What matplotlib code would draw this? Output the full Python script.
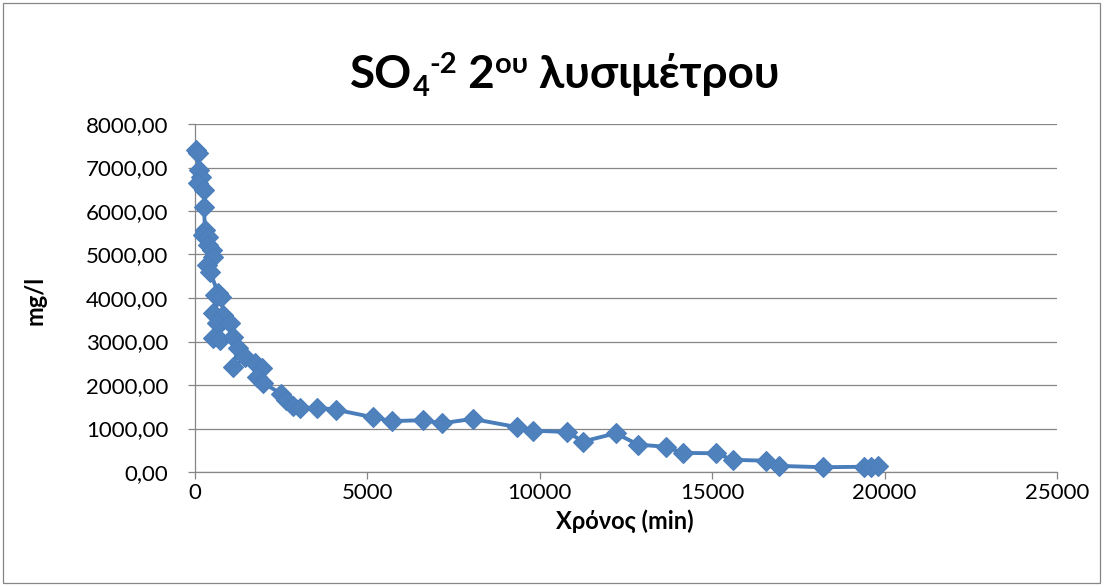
import matplotlib
matplotlib.use("Agg")
import matplotlib.pyplot as plt
from matplotlib.patches import Rectangle
from matplotlib.ticker import FuncFormatter

# Sulfate concentration leached from lysimeter 2 over time
time_min = [30, 80, 110, 170, 90, 260, 260, 290, 230, 380, 380, 500, 520, 350, 440,
            670, 580, 750, 520, 810, 640, 1015, 520, 725, 1100, 1250, 1100, 1450,
            1740, 1940, 1800, 1970, 2500, 2650, 2850, 3050, 3550, 4100, 5150, 5700,
            6600, 7150, 8050, 9350, 9800, 10800, 11250, 12200, 12850, 13650, 14150,
            15100, 15600, 16550, 16950, 18200, 19400, 19600, 19800]
so4_mg_l = [7400, 7330, 6940, 6780, 6640, 6480, 6090, 5560, 5450, 5400, 5220, 5100,
            4940, 4760, 4600, 4110, 4070, 4020, 3650, 3610, 3430, 3430, 3080, 3030,
            3100, 2850, 2410, 2640, 2500, 2390, 2180, 2050, 1800, 1650, 1520, 1470,
            1480, 1430, 1260, 1170, 1190, 1120, 1220, 1030, 950, 920, 700, 890, 630,
            580, 440, 430, 280, 260, 140, 110, 120, 110, 130]

x_ticks = [0, 5000, 10000, 15000, 20000, 25000]
y_ticks = [0, 1000, 2000, 3000, 4000, 5000, 6000, 7000, 8000]

FONT = ["Lato", "Open Sans", "DejaVu Sans"]
plt.rcParams["font.family"] = FONT

GRID = "#868686"
LINE = "#4A7EBB"
FILL = "#4F81BD"

fig = plt.figure(figsize=(11.04, 5.87), dpi=100)
fig.patch.set_facecolor("white")
fig.patches.append(Rectangle((3 / 1104, 4 / 587), 1097 / 1104, 580 / 587,
                             transform=fig.transFigure, fill=False,
                             edgecolor=GRID, linewidth=0.9))

ax = fig.add_axes([195 / 1104, 1 - 472 / 587, 862 / 1104, 348 / 587])
ax.plot(time_min, so4_mg_l, color=LINE, linewidth=2.8, marker="D",
        markersize=10, markerfacecolor=FILL, markeredgecolor=LINE,
        markeredgewidth=0.8, zorder=3, clip_on=False)

ax.set_xlim(x_ticks[0], x_ticks[-1])
ax.set_ylim(y_ticks[0], y_ticks[-1])
ax.set_xticks(x_ticks)
ax.set_yticks(y_ticks)
ax.yaxis.set_major_formatter(FuncFormatter(lambda v, p: f"{v:.2f}".replace(".", ",")))
ax.xaxis.set_major_formatter(FuncFormatter(lambda v, p: f"{int(v)}"))

ax.grid(axis="y", color=GRID, linewidth=0.9)
ax.set_axisbelow(True)
for side in ("top", "right"):
    ax.spines[side].set_visible(False)
for side in ("left", "bottom"):
    ax.spines[side].set_color(GRID)
    ax.spines[side].set_linewidth(0.9)
ax.tick_params(axis="both", direction="out", length=5, width=0.9, color=GRID,
               labelsize=16, labelcolor="black")
ax.tick_params(axis="x", pad=3)
ax.tick_params(axis="y", pad=14)

fig.text(625 / 1104, 1 - 521 / 587, "Χρόνος (min)", fontsize=17, fontweight="bold",
         ha="center", va="center")
fig.text(35 / 1104, 1 - 300 / 587, "mg/l", fontsize=17, fontweight="bold",
         ha="center", va="center", rotation=90)

# Title assembled from pieces for the sub/superscripts
parts = [("SO", 0), ("4", -1), ("-2", 1), (" 2", 0), ("ου", 1), (" λυσιμέτρου", 0)]
fig.canvas.draw()
renderer = fig.canvas.get_renderer()
big, small = 33, 21
texts = []
total = 0.0
for s, pos in parts:
    t = fig.text(0, 0, s, fontsize=big if pos == 0 else small, fontweight="bold",
                 transform=None, va="baseline", ha="left")
    w = t.get_window_extent(renderer).width
    texts.append((t, pos, w))
    total += w
x = 565 - total / 2
base = 587 - 88
for t, pos, w in texts:
    dy = {0: 0, -1: -8, 1: 15}[pos]
    t.set_position((x, base + dy))
    x += w

fig.savefig("out.png", dpi=100)
